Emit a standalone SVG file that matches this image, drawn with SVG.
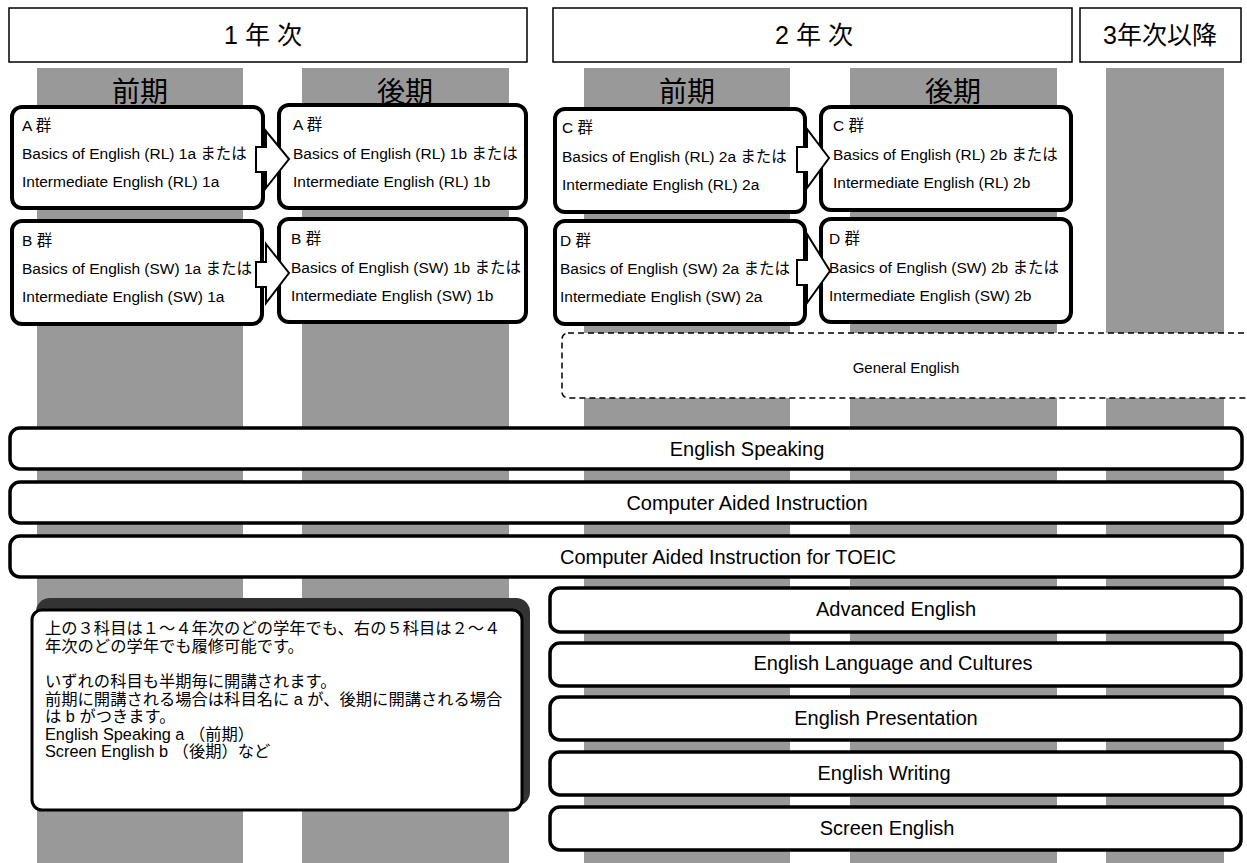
<svg xmlns="http://www.w3.org/2000/svg" width="1247" height="863" viewBox="0 0 1247 863">
<style>
  text { font-family: "Liberation Sans", "Noto Sans CJK JP", sans-serif; fill: #000; }
  .col { fill: #999999; }
  .hdr { fill: #fff; stroke: #000; stroke-width: 1.5; }
  .hdrt { font-size: 25px; text-anchor: middle; }
  .term { font-size: 28px; text-anchor: middle; }
  .node { fill: #fff; stroke: #000; stroke-width: 4; }
  .nt { font-size: 15.5px; }
  .bar { fill: #fff; stroke: #000; stroke-width: 3.5; }
  .bt { font-size: 20px; text-anchor: middle; }
  .arrow { fill: #fff; stroke: #000; stroke-width: 2; stroke-linejoin: miter; }
  .note { font-size: 16.3px; }
</style>

<rect width="1247" height="863" fill="#fff"/>

<g id="columns">
  <rect class="col" x="37" y="68" width="206" height="795"/>
  <rect class="col" x="302" y="68" width="207" height="795"/>
  <rect class="col" x="584" y="68" width="206" height="795"/>
  <rect class="col" x="850" y="68" width="207" height="795"/>
  <rect class="col" x="1106" y="68" width="118" height="795"/>
</g>

<g id="header-year1">
  <rect class="hdr" x="9" y="8" width="518" height="54"/>
  <text class="hdrt" x="263" y="44">1 年 次</text>
</g>
<g id="header-year2">
  <rect class="hdr" x="553" y="8" width="519" height="54"/>
  <text class="hdrt" x="814" y="44">2 年 次</text>
</g>
<g id="header-year3">
  <rect class="hdr" x="1080" y="8" width="161" height="54"/>
  <text class="hdrt" x="1160" y="44">3年次以降</text>
</g>

<g id="term-labels">
  <text class="term" x="140" y="102">前期</text>
  <text class="term" x="405" y="102">後期</text>
  <text class="term" x="687" y="102">前期</text>
  <text class="term" x="953" y="102">後期</text>
</g>

<g id="node-A1">
  <rect class="node" x="12" y="107" width="251" height="101" rx="10"/>
  <text class="nt" x="22" y="131">A 群</text>
  <text class="nt" x="22" y="159">Basics of English (RL) 1a または</text>
  <text class="nt" x="22" y="187">Intermediate English (RL) 1a</text>
</g>
<g id="node-A2">
  <rect class="node" x="279" y="105" width="247" height="103" rx="10"/>
  <text class="nt" x="293" y="130">A 群</text>
  <text class="nt" x="293" y="159">Basics of English (RL) 1b または</text>
  <text class="nt" x="293" y="187">Intermediate English (RL) 1b</text>
</g>
<g id="node-B1">
  <rect class="node" x="12" y="221" width="250" height="103" rx="10"/>
  <text class="nt" x="22" y="246">B 群</text>
  <text class="nt" x="22" y="274">Basics of English (SW) 1a または</text>
  <text class="nt" x="22" y="302">Intermediate English (SW) 1a</text>
</g>
<g id="node-B2">
  <rect class="node" x="279" y="219" width="247" height="103" rx="10"/>
  <text class="nt" x="291" y="244">B 群</text>
  <text class="nt" x="291" y="273">Basics of English (SW) 1b または</text>
  <text class="nt" x="291" y="301">Intermediate English (SW) 1b</text>
</g>
<g id="node-C1">
  <rect class="node" x="555" y="109" width="250" height="103" rx="10"/>
  <text class="nt" x="562" y="133">C 群</text>
  <text class="nt" x="562" y="162">Basics of English (RL) 2a または</text>
  <text class="nt" x="562" y="190">Intermediate English (RL) 2a</text>
</g>
<g id="node-C2">
  <rect class="node" x="821" y="107" width="250" height="103" rx="10"/>
  <text class="nt" x="833" y="131">C 群</text>
  <text class="nt" x="833" y="160">Basics of English (RL) 2b または</text>
  <text class="nt" x="833" y="188">Intermediate English (RL) 2b</text>
</g>
<g id="node-D1">
  <rect class="node" x="555" y="221" width="250" height="103" rx="10"/>
  <text class="nt" x="560" y="246">D 群</text>
  <text class="nt" x="560" y="274">Basics of English (SW) 2a または</text>
  <text class="nt" x="560" y="302">Intermediate English (SW) 2a</text>
</g>
<g id="node-D2">
  <rect class="node" x="821" y="219" width="250" height="103" rx="10"/>
  <text class="nt" x="829" y="244">D 群</text>
  <text class="nt" x="829" y="273">Basics of English (SW) 2b または</text>
  <text class="nt" x="829" y="301">Intermediate English (SW) 2b</text>
</g>

<g id="connectors">
  <polygon class="arrow" points="256,147 266,147 266,131 289,159 266,188 266,172 256,172"/>
  <polygon class="arrow" points="256,262 266,262 266,244 289,273 266,303 266,287 256,287"/>
  <polygon class="arrow" points="797,147 807,147 807,129 829,158 807,188 807,172 797,172"/>
  <polygon class="arrow" points="797,260 807,260 807,234 830,271 807,303 807,285 797,285"/>
</g>

<g id="general-english">
  <rect x="562" y="333" width="700" height="65" rx="6" fill="#fff" stroke="#000" stroke-width="1.5" stroke-dasharray="6,4"/>
  <text x="906" y="373" font-size="15" text-anchor="middle">General English</text>
</g>

<g id="english-speaking">
  <rect class="bar" x="10" y="428" width="1232" height="41" rx="10"/>
  <text class="bt" x="747" y="456">English Speaking</text>
</g>
<g id="cai">
  <rect class="bar" x="10" y="482" width="1232" height="41" rx="10"/>
  <text class="bt" x="747" y="510">Computer Aided Instruction</text>
</g>
<g id="cai-toeic">
  <rect class="bar" x="10" y="536" width="1232" height="41" rx="10"/>
  <text class="bt" x="728" y="564">Computer Aided Instruction for TOEIC</text>
</g>

<g id="note">
  <rect x="36" y="598" width="494" height="208" rx="14" fill="#333"/>
  <rect x="32" y="610" width="490" height="200" rx="10" fill="#fff" stroke="#000" stroke-width="3"/>
  <text class="note" x="45" y="634">上の３科目は１～４年次のどの学年でも、右の５科目は２～４</text>
  <text class="note" x="45" y="652">年次のどの学年でも履修可能です。</text>
  <text class="note" x="45" y="687">いずれの科目も半期毎に開講されます。</text>
  <text class="note" x="45" y="705">前期に開講される場合は科目名に a が、後期に開講される場合</text>
  <text class="note" x="45" y="722">は b がつきます。</text>
  <text class="note" x="45" y="740">English Speaking a （前期）</text>
  <text class="note" x="45" y="757">Screen English b （後期）など</text>
</g>

<g id="advanced-english">
  <rect class="bar" x="550" y="588" width="691" height="44" rx="10"/>
  <text class="bt" x="896" y="616">Advanced English</text>
</g>
<g id="english-language-cultures">
  <rect class="bar" x="550" y="643" width="691" height="43" rx="10"/>
  <text class="bt" x="893" y="670">English Language and Cultures</text>
</g>
<g id="english-presentation">
  <rect class="bar" x="550" y="697" width="691" height="43" rx="10"/>
  <text class="bt" x="886" y="725">English Presentation</text>
</g>
<g id="english-writing">
  <rect class="bar" x="550" y="752" width="691" height="43" rx="10"/>
  <text class="bt" x="884" y="780">English Writing</text>
</g>
<g id="screen-english">
  <rect class="bar" x="550" y="807" width="691" height="43" rx="10"/>
  <text class="bt" x="887" y="835">Screen English</text>
</g>
</svg>
